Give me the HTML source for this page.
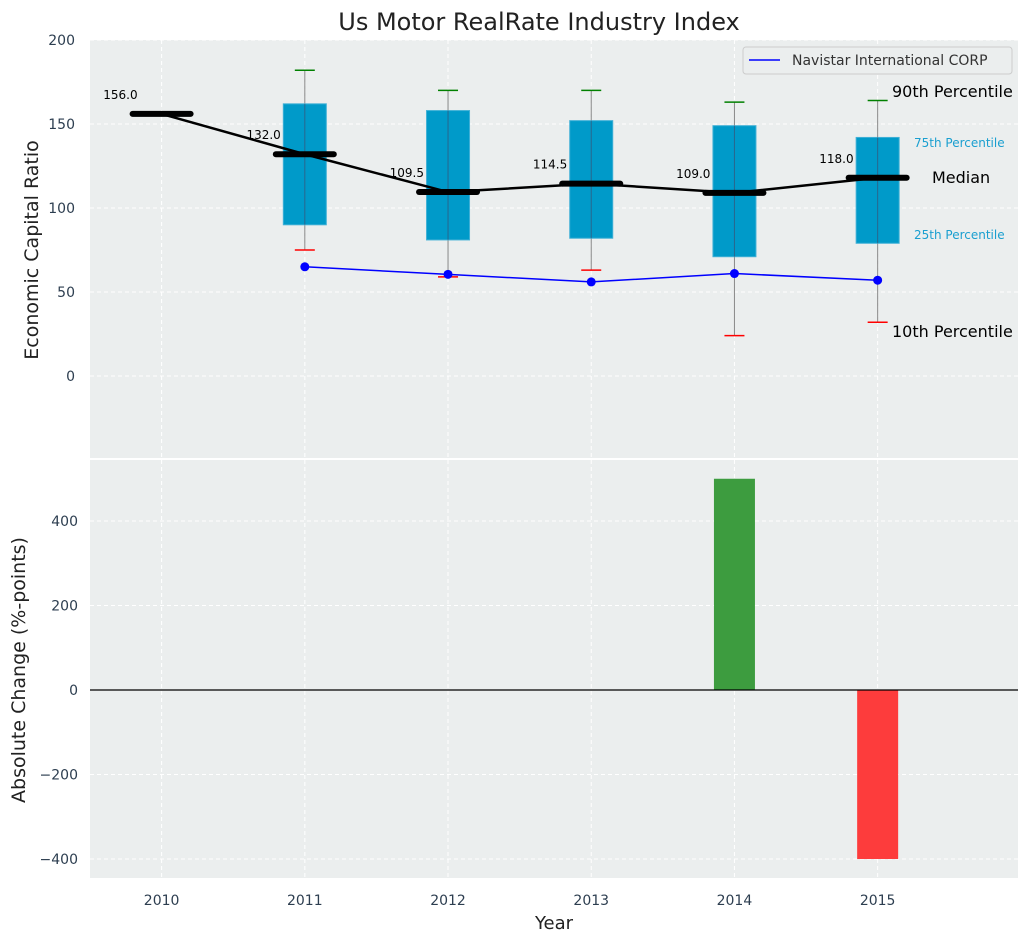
<!DOCTYPE html>
<html><head><meta charset="utf-8"><style>
body{margin:0;background:#fff;}
svg{display:block;font-family:"DejaVu Sans","Liberation Sans",sans-serif;}
</style></head><body>
<svg id="c" width="1029" height="942"></svg>
<script>
const years=[2010,2011,2012,2013,2014,2015];
const medians=[156,132,109.5,114.5,109,118];
const boxYears=[2011,2012,2013,2014,2015];
const q25=[90,81,82,71,79];
const q75=[162,158,152,149,142];
const p10=[75,59,63,24,32];
const p90=[182,170,170,163,164];
const navYears=[2011,2012,2013,2014,2015];
const navVals=[65,60.5,56,61,57];
const chgYears=[2014,2015];
const chgVals=[500,-400];
const topTicks=[0,50,100,150,200];
const botTicks=[-400,-200,0,200,400];

const svg=document.getElementById('c');const NS='http://www.w3.org/2000/svg';
function el(t,a,txt,p){const e=document.createElementNS(NS,t);for(const k in a)e.setAttribute(k,a[k]);if(txt!=null)e.textContent=txt;(p||svg).appendChild(e);return e;}
const X0=90,X1=1018;
const x=v=>X0+(v-2009.5)/(2015.98-2009.5)*(X1-X0);
const yT=v=>376-v*1.68;
const yB=v=>690-v*0.4225;
const T=el('text',{x:539,y:30,'text-anchor':'middle','font-size':24,fill:'#222'},'Us Motor RealRate Industry Index');

let r=el('rect',{x:X0,y:40,width:X1-X0,height:418,fill:'#ebeeee'});
r=el('rect',{x:X0,y:460,width:X1-X0,height:418,fill:'#ebeeee'});
years.forEach(v=>{el('line',{x1:x(v),x2:x(v),y1:40,y2:458,stroke:'#fff','stroke-dasharray':'4,3'});el('line',{x1:x(v),x2:x(v),y1:460,y2:878,stroke:'#fff','stroke-dasharray':'4,3'});
 const t=el('text',{x:x(v),y:905,'text-anchor':'middle','font-size':14,fill:'#2d3e50'},v);});
topTicks.forEach(v=>{el('line',{x1:X0,x2:X1,y1:yT(v),y2:yT(v),stroke:'#fff','stroke-dasharray':'4,3'});
 const t=el('text',{x:75,y:yT(v)+5,'text-anchor':'end','font-size':14,fill:'#2d3e50'},v);});
botTicks.forEach(v=>{el('line',{x1:X0,x2:X1,y1:yB(v),y2:yB(v),stroke:'#fff','stroke-dasharray':'4,3'});
 const t=el('text',{x:78,y:yB(v)+5,'text-anchor':'end','font-size':14,fill:'#2d3e50'},v<0?'−'+(-v):v);});
boxYears.forEach((yr,i)=>{const cx=x(yr);
 const w=el('line',{x1:cx,x2:cx,y1:yT(p90[i]),y2:yT(p10[i]),stroke:'#888','stroke-width':1});
 const b=el('rect',{x:cx-21.5,y:yT(q75[i]),width:43,height:yT(q25[i])-yT(q75[i]),fill:'#009ac9',stroke:'#3fb0d6','stroke-width':1});
 el('line',{x1:cx,x2:cx,y1:yT(q75[i]),y2:yT(q25[i]),stroke:'#446','stroke-width':1,opacity:0.6});
 const c1=el('line',{x1:cx-10,x2:cx+10,y1:yT(p90[i]),y2:yT(p90[i]),stroke:'green','stroke-width':1.5});
 const c2=el('line',{x1:cx-10,x2:cx+10,y1:yT(p10[i]),y2:yT(p10[i]),stroke:'red','stroke-width':1.5});
});
const nl=el('polyline',{points:navYears.map((v,i)=>x(v)+','+yT(navVals[i])).join(' '),fill:'none',stroke:'blue','stroke-width':1.5});
navYears.forEach((v,i)=>{const p=el('circle',{cx:x(v),cy:yT(navVals[i]),r:4.5,fill:'blue'});});
const ml=el('polyline',{points:years.map((v,i)=>x(v)+','+yT(medians[i])).join(' '),fill:'none',stroke:'#000','stroke-width':2.5});
years.forEach((v,i)=>{const cx=x(v),cy=yT(medians[i]);
 const m=el('line',{x1:cx-29,x2:cx+29,y1:cy,y2:cy,stroke:'#000','stroke-width':6,'stroke-linecap':'round'});
 const t=el('text',{x:cx-24,y:cy-15,'text-anchor':'end','font-size':12,fill:'#000'},medians[i].toFixed(1));});
[['90th Percentile',892,97,16,'#000'],['75th Percentile',914,147,12,'#1a9fd0'],['Median',932,183,16,'#000'],['25th Percentile',914,239,12,'#1a9fd0'],['10th Percentile',892,337,16,'#000']].forEach(a=>{
 const t=el('text',{x:a[1],y:a[2],'font-size':a[3],fill:a[4]},a[0]);});
const lg=el('g',{});
el('rect',{x:743,y:47,width:269,height:27,rx:3,fill:'#ebeeee',stroke:'#ccc'},null,lg);
el('line',{x1:749,x2:780,y1:60,y2:60,stroke:'blue','stroke-width':1.5},null,lg);
el('text',{x:792,y:65,'font-size':14,fill:'#333'},'Navistar International CORP',lg);
chgYears.forEach((yr,i)=>{const v=chgVals[i];const b=el('rect',{x:x(yr)-20.5,y:yB(Math.max(v,0)),width:41,height:Math.abs(yB(v)-yB(0)),fill:v>=0?'#3d9c3f':'#fd3c3c'});});
el('line',{x1:X0,x2:X1,y1:yB(0),y2:yB(0),stroke:'#000','stroke-width':1.2});
let t=el('text',{x:38,y:250,'text-anchor':'middle','font-size':19,fill:'#222',transform:'rotate(-90 38 250)'},'Economic Capital Ratio');
t=el('text',{x:25,y:670,'text-anchor':'middle','font-size':19,fill:'#222',transform:'rotate(-90 25 670)'},'Absolute Change (%-points)');
t=el('text',{x:554,y:929,'text-anchor':'middle','font-size':18,fill:'#222'},'Year');
</script>
</body></html>
